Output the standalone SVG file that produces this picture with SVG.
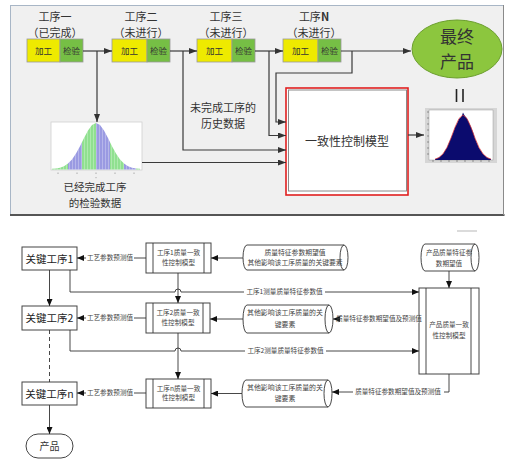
<svg xmlns="http://www.w3.org/2000/svg" width="515" height="467" viewBox="0 0 515 467">
<style>
text{font-family:"Noto Sans CJK SC","Liberation Sans",sans-serif;fill:#333;text-anchor:middle}
.t11{font-size:11px}
.t12{font-size:12px}
.sm{font-size:8.5px}
.k{font-size:10.5px;fill:#222}
.lbl{font-size:6.6px;fill:#444}
.ln{fill:none;stroke:#3a3a3a;stroke-width:1.2}
.bl{fill:none;stroke:#333;stroke-width:0.9}
.box{fill:#fff;stroke:#444;stroke-width:1}
.jg{fill:#eeea00;stroke:#9a9a9a;stroke-width:0.8}
.jy{fill:#76bf45;stroke:#9a9a9a;stroke-width:0.8}
.cyl{fill:#fff;stroke:#333;stroke-width:0.9}
.wb{fill:#fff}
</style>
<defs>
<marker id="a1" markerWidth="8" markerHeight="6" refX="8" refY="3" orient="auto" markerUnits="userSpaceOnUse"><path d="M0,0 L8,3 L0,6 Z" fill="#333"/></marker>
<marker id="a2" markerWidth="7" markerHeight="6" refX="7" refY="3" orient="auto" markerUnits="userSpaceOnUse"><path d="M0,0 L7,3 L0,6 Z" fill="#111"/></marker>
<clipPath id="bell"><path d="M52,168.8 L56,168.4 L60,167.7 L64,166.2 L68,163.6 L72,159.5 L76,153.6 L80,146.2 L84,138 L88,130.4 L92,125 L96,123 L100,125 L104,130.4 L108,138 L112,146.2 L116,153.6 L120,159.5 L124,163.6 L128,166.2 L132,167.7 L136,168.4 L140,168.8 L140,169.5 L52,169.5 Z"/></clipPath>
<pattern id="vs" width="3" height="10" patternUnits="userSpaceOnUse"><line x1="0.5" y1="0" x2="0.5" y2="10" stroke="#fff" stroke-opacity="0.35" stroke-width="0.8"/></pattern>
</defs>

<!-- top frame -->
<rect x="10.5" y="5.5" width="493" height="209.5" fill="#f0f0f0" stroke="#a8b6c6"/>
<line x1="10" y1="215" x2="504.5" y2="215" stroke="#555" stroke-width="2"/>
<line x1="503.5" y1="5" x2="503.5" y2="215" stroke="#8a8a8a" stroke-width="1"/>

<g id="step1">
<text class="t11" x="55" y="21">工序一</text>
<text class="t11" x="55" y="37">（已完成）</text>
<rect class="jg" x="27" y="39" width="33" height="23"/>
<rect class="jy" x="60" y="39" width="23" height="23"/>
<text class="sm" x="43.5" y="54">加工</text>
<text class="sm" x="71.5" y="54">检验</text>
</g>
<g id="step2">
<text class="t11" x="141" y="21">工序二</text>
<text class="t11" x="141" y="37">（未进行）</text>
<rect class="jg" x="112" y="39" width="35" height="23"/>
<rect class="jy" x="147" y="39" width="23" height="23"/>
<text class="sm" x="129.5" y="54">加工</text>
<text class="sm" x="158.5" y="54">检验</text>
</g>
<g id="step3">
<text class="t11" x="226" y="21">工序三</text>
<text class="t11" x="226" y="37">（未进行）</text>
<rect class="jg" x="197" y="39" width="35" height="23"/>
<rect class="jy" x="232" y="39" width="23" height="23"/>
<text class="sm" x="214.5" y="54">加工</text>
<text class="sm" x="243.5" y="54">检验</text>
</g>
<g id="stepN">
<text class="t11" x="314" y="21">工序<tspan font-weight="bold">N</tspan></text>
<text class="t11" x="314" y="37">（未进行）</text>
<rect class="jg" x="283" y="39" width="35" height="23"/>
<rect class="jy" x="318" y="39" width="23" height="23"/>
<text class="sm" x="300.5" y="54">加工</text>
<text class="sm" x="329.5" y="54">检验</text>
</g>
<g id="final">
<ellipse cx="457" cy="49" rx="45" ry="29" fill="#8cc63e" stroke="#6b9e2d" stroke-width="1"/>
<text x="457" y="43" style="font-size:17px">最终</text>
<text x="457" y="68" style="font-size:17px">产品</text>
</g>
<g id="equals">
<line x1="456.5" y1="89" x2="456.5" y2="102" stroke="#222" stroke-width="1.6"/>
<line x1="463" y1="89" x2="463" y2="102" stroke="#222" stroke-width="1.6"/>
</g>
<g id="inspect">
<rect x="51" y="122" width="91" height="48" fill="#fff" stroke="#d0d0d0" stroke-width="0.8"/>
<g clip-path="url(#bell)">
<rect x="51" y="120" width="17" height="51" fill="#90e090"/>
<rect x="68" y="120" width="14" height="51" fill="#9a9ae2"/>
<rect x="82" y="120" width="14" height="51" fill="#90e090"/>
<rect x="96" y="120" width="14" height="51" fill="#9a9ae2"/>
<rect x="110" y="120" width="14" height="51" fill="#90e090"/>
<rect x="124" y="120" width="12" height="51" fill="#9a9ae2"/>
<rect x="136" y="120" width="6" height="51" fill="#90e090"/>
<rect x="51" y="120" width="91" height="51" fill="url(#vs)"/>
</g>
<g stroke="#999" stroke-width="0.8">
<line x1="58" y1="172.5" x2="58" y2="174"/>
<line x1="77" y1="172.5" x2="77" y2="174"/>
<line x1="96" y1="172.5" x2="96" y2="174"/>
<line x1="115" y1="172.5" x2="115" y2="174"/>
<line x1="134" y1="172.5" x2="134" y2="174"/>
<line x1="96" y1="177" x2="96" y2="178.2"/>
</g>
<text x="95" y="191" style="font-size:10.5px">已经完成工序</text>
<text x="95" y="206.5" style="font-size:10.5px">的检验数据</text>
</g>
<g id="history">
<text class="t11" x="223" y="111.5">未完成工序的</text>
<text class="t11" x="223" y="127.5">历史数据</text>
</g>
<g id="model">
<rect x="286" y="88" width="122" height="107" fill="#fff" stroke="#e02020" stroke-width="1.6"/>
<rect x="288.5" y="90" width="118" height="101" fill="#fff" stroke="#8a8a8a" stroke-width="1"/>
<text class="t12" x="347" y="146">一致性控制模型</text>
</g>
<g id="hist">
<rect x="425" y="108" width="72" height="55" fill="#d6d6d6"/>
<rect x="429" y="110" width="64" height="50" fill="#fff" stroke="#888" stroke-width="0.4"/>
<path d="M435,159.2 L439,157.6 L443,154 L447,147.5 L451,138 L453,133 L455,127.5 L457,123.5 L459,119 L461,117 L462,115.5 L463,112.5 L464,114.5 L465,116 L467,118.5 L469,122.5 L471,127 L473,132 L475,138.5 L479,148 L483,154 L487,157.5 L491,159.2 L491,160 L435,160 Z" fill="#0b0b6e"/>
<polyline points="435,159.1 439,157.5 443,153.9 447,147.5 451,138.1 455,127.3 459,118.5 463,115 467,118.5 471,127.3 475,138.1 479,147.5 483,153.9 487,157.5 491,159.1" fill="none" stroke="#e03030" stroke-width="0.7"/>
<g stroke="#444" stroke-width="0.5">
<line x1="427" y1="112" x2="429" y2="112"/><line x1="427" y1="118" x2="429" y2="118"/><line x1="427" y1="124" x2="429" y2="124"/><line x1="427" y1="130" x2="429" y2="130"/><line x1="427" y1="136" x2="429" y2="136"/><line x1="427" y1="142" x2="429" y2="142"/><line x1="427" y1="148" x2="429" y2="148"/><line x1="427" y1="154" x2="429" y2="154"/>
<line x1="433" y1="160" x2="433" y2="162"/><line x1="441" y1="160" x2="441" y2="162"/><line x1="449" y1="160" x2="449" y2="162"/><line x1="457" y1="160" x2="457" y2="162"/><line x1="465" y1="160" x2="465" y2="162"/><line x1="473" y1="160" x2="473" y2="162"/><line x1="481" y1="160" x2="481" y2="162"/><line x1="489" y1="160" x2="489" y2="162"/>
</g>
</g>

<g id="top-connectors">
<path class="ln" d="M83,51 H112" marker-end="url(#a1)"/>
<path class="ln" d="M97,51 V122" marker-end="url(#a1)"/>
<path class="ln" d="M170,51 H197" marker-end="url(#a1)"/>
<path class="ln" d="M183,51 V150 H286" marker-end="url(#a1)"/>
<path class="ln" d="M255,51 H283" marker-end="url(#a1)"/>
<path class="ln" d="M269,51 V135.5 H286" marker-end="url(#a1)"/>
<path class="ln" d="M341,51 H411" marker-end="url(#a1)"/>
<path class="ln" d="M352,51 V73 H276 V122 H286" marker-end="url(#a1)"/>
<path class="ln" d="M142,162.5 H286" marker-end="url(#a1)"/>
<path class="ln" d="M408,135 H424" marker-end="url(#a1)"/>
</g>

<!-- bottom diagram -->
<line x1="457" y1="231" x2="477" y2="231" stroke="#cfcfcf" stroke-width="1.5"/>

<g id="key1"><rect class="box" x="22" y="247" width="55" height="23"/><text class="k" x="49.5" y="262.5">关键工序1</text></g>
<g id="key2"><rect class="box" x="22" y="306" width="55" height="24"/><text class="k" x="49.5" y="322">关键工序2</text></g>
<g id="keyn"><rect class="box" x="22" y="382" width="55" height="23"/><text class="k" x="49.5" y="397.5">关键工序n</text></g>
<g id="product"><rect class="box" x="26" y="434" width="47" height="24" rx="12"/><text x="49.5" y="450" style="font-size:10px">产品</text></g>

<g id="model1"><rect class="box" x="146" y="243" width="65" height="30"/><line class="bl" x1="153" y1="243" x2="153" y2="273"/><line class="bl" x1="204" y1="243" x2="204" y2="273"/><text class="lbl" x="178.5" y="255">工序1质量一致</text><text class="lbl" x="178.5" y="265">性控制模型</text></g>
<g id="model2"><rect class="box" x="146" y="303" width="64" height="30"/><line class="bl" x1="153" y1="303" x2="153" y2="333"/><line class="bl" x1="203" y1="303" x2="203" y2="333"/><text class="lbl" x="178" y="315">工序2质量一致</text><text class="lbl" x="178" y="325">性控制模型</text></g>
<g id="modeln"><rect class="box" x="146" y="379" width="65" height="29"/><line class="bl" x1="153" y1="379" x2="153" y2="408"/><line class="bl" x1="204" y1="379" x2="204" y2="408"/><text class="lbl" x="178.5" y="390.5">工序n质量一致</text><text class="lbl" x="178.5" y="400">性控制模型</text></g>

<g id="cyl1"><path class="cyl" d="M247,245 H344 A4,12.5 0 0 1 344,270 H247 A4,12.5 0 0 1 247,245 Z M344,245 A4,12.5 0 0 0 344,270"/><text class="lbl" x="295" y="254.5" style="font-size:6.8px">质量特征参数期望值</text><text class="lbl" x="295" y="265" style="font-size:6.8px">其他影响该工序质量的关键要素</text></g>
<g id="cyl2"><path class="cyl" d="M247,305 H329 A4,14 0 0 1 329,333 H247 A4,14 0 0 1 247,305 Z M329,305 A4,14 0 0 0 329,333"/><text class="lbl" x="285" y="314.5" style="font-size:6.9px">其他影响该工序质量的关</text><text class="lbl" x="285" y="326.5" style="font-size:6.9px">键要素</text></g>
<g id="cyln"><path class="cyl" d="M246,380 H328 A4,13.5 0 0 1 328,407 H246 A4,13.5 0 0 1 246,380 Z M328,380 A4,13.5 0 0 0 328,407"/><text class="lbl" x="285" y="389.5" style="font-size:6.9px">其他影响该工序质量的关</text><text class="lbl" x="285" y="401" style="font-size:6.9px">键要素</text></g>
<g id="pcyl"><path class="cyl" d="M425,244 H475 A4,13.5 0 0 1 475,271 H425 A4,13.5 0 0 1 425,244 Z M475,244 A4,13.5 0 0 0 475,271"/><text class="lbl" x="449" y="254.5">产品质量特征参</text><text class="lbl" x="449" y="265.5">数期望值</text></g>
<g id="pmodel"><rect class="box" x="419" y="288" width="60" height="86"/><line class="bl" x1="426" y1="288" x2="426" y2="374"/><line class="bl" x1="471" y1="288" x2="471" y2="374"/><text class="lbl" x="449" y="326.5">产品质量一致</text><text class="lbl" x="449" y="337.5">性控制模型</text></g>

<g id="bottom-connectors">
<path class="bl" d="M146,258 H77" marker-end="url(#a2)"/>
<path class="bl" d="M146,318 H77" marker-end="url(#a2)"/>
<path class="bl" d="M146,393 H77" marker-end="url(#a2)"/>
<path class="bl" d="M243,258 H211" marker-end="url(#a2)"/>
<path class="bl" d="M243,319 H210" marker-end="url(#a2)"/>
<path class="bl" d="M242,393.5 H211" marker-end="url(#a2)"/>
<path class="bl" d="M49.5,270 V306" marker-end="url(#a2)"/>
<path class="bl" d="M49.5,330 V382" stroke-dasharray="4,3"/>
<path class="bl" d="M49.5,405 V434" marker-end="url(#a2)"/>
<path class="bl" d="M178,273 V303" marker-end="url(#a2)"/>
<path class="bl" d="M178,333 V379" marker-end="url(#a2)"/>
<path class="bl" d="M70,270 V292 H175 A3,3 0 0 1 181,292 H419" marker-end="url(#a2)"/>
<path class="bl" d="M70,330 V351 H175 A3,3 0 0 1 181,351 H419" marker-end="url(#a2)"/>
<path class="bl" d="M449,271 V288" marker-end="url(#a2)"/>
<path class="bl" d="M419,319 H333" marker-end="url(#a2)"/>
<path class="bl" d="M449,374 V392 H332" marker-end="url(#a2)"/>
<rect class="wb" x="86" y="254" width="48" height="8"/>
<text class="lbl" x="110" y="260.3">工艺参数预测值</text>
<rect class="wb" x="86" y="314" width="48" height="8"/>
<text class="lbl" x="110" y="320.3">工艺参数预测值</text>
<rect class="wb" x="86" y="389" width="48" height="8"/>
<text class="lbl" x="110" y="395.3">工艺参数预测值</text>
<rect class="wb" x="244" y="288" width="81" height="8"/>
<text class="lbl" x="284.5" y="294.3">工序1测量质量特征参数值</text>
<rect class="wb" x="245" y="347" width="81" height="8"/>
<text class="lbl" x="285.5" y="353.3">工序2测量质量特征参数值</text>
<rect class="wb" x="340" y="315" width="78.5" height="8"/>
<text class="lbl" x="379" y="321.3">质量特征参数期望值及预测值</text>
<rect class="wb" x="353" y="388" width="91" height="8"/>
<text class="lbl" x="398" y="394.3">质量特征参数期望值及预测值</text>
</g>
</svg>
